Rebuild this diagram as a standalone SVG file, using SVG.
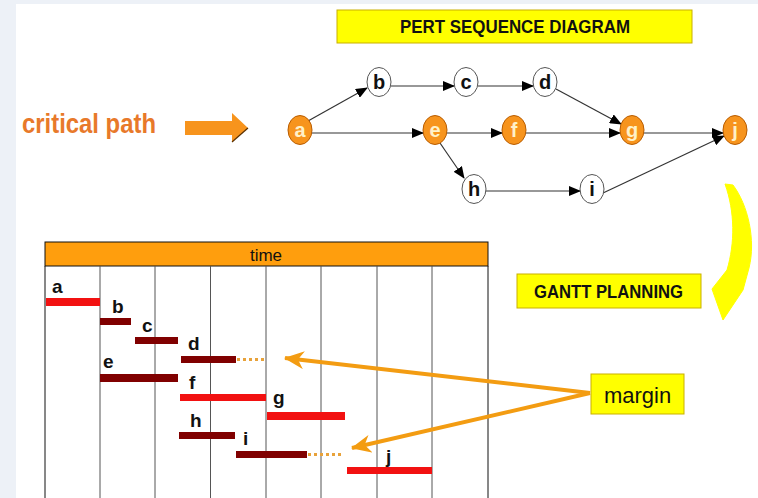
<svg xmlns="http://www.w3.org/2000/svg" width="758" height="498" viewBox="0 0 758 498">
<style>
.bg{fill:#edf1f7}
.panel{fill:#ffffff}
.crit ellipse{fill:#f7941d;stroke:#b85c00;stroke-width:1}
.crit text{fill:#fff1c8;font:bold 20px "Liberation Sans",Arial,sans-serif;text-anchor:middle}
.plain ellipse{fill:#ffffff;stroke:#555555;stroke-width:1}
.plain text{fill:#111111;font:bold 20px "Liberation Sans",Arial,sans-serif;text-anchor:middle}
.edge{stroke:#333333;stroke-width:1.2;fill:none;marker-end:url(#ah)}
.ybox{fill:#ffff00;stroke:#c9b000;stroke-width:1}
.title{font:bold 19px "Liberation Sans",Arial,sans-serif;fill:#111111}
.lbl{font:bold 19px "Liberation Sans",Arial,sans-serif;fill:#111111}
.red{fill:#f21111}
.dark{fill:#800000}
.dots{stroke:#e8a23a;stroke-width:3;stroke-dasharray:3 3;fill:none}
.grid{stroke:#555555;stroke-width:1;fill:none}
.marg{stroke:#f39c12;stroke-width:4;fill:none;marker-end:url(#oh)}
</style>
<defs>
<marker id="ah" markerUnits="userSpaceOnUse" markerWidth="12" markerHeight="10" refX="11" refY="5" orient="auto">
<path d="M0,0 L12,5 L0,10 Z" fill="#000000"/>
</marker>
<marker id="oh" markerUnits="userSpaceOnUse" markerWidth="20" markerHeight="18" refX="19" refY="9" orient="auto">
<path d="M0,0 L20,9 L0,18 L6,9 Z" fill="#f39c12"/>
</marker>
</defs>
<rect class="bg" x="0" y="0" width="758" height="498"/>
<rect class="panel" x="16" y="4" width="742" height="494"/>

<g id="pert-title">
<rect class="ybox" x="337" y="10" width="355" height="33"/>
<text class="title" x="400" y="33" textLength="230" lengthAdjust="spacingAndGlyphs">PERT SEQUENCE DIAGRAM</text>
</g>

<g id="critical-path">
<text x="22" y="133" font-family="Liberation Sans, Arial, sans-serif" font-weight="bold" font-size="27" fill="#e8792a" textLength="134" lengthAdjust="spacingAndGlyphs">critical path</text>
<path d="M185,121 L232,121 L232,113 L248,128 L232,142 L232,135 L185,135 Z" fill="#f7941d"/>
<path d="M248,128 L232,142" stroke="#5a3000" stroke-width="1.2"/>
</g>

<g id="connectors">
<line class="edge" x1="308" y1="121" x2="367" y2="88"/>
<line class="edge" x1="312" y1="133" x2="423" y2="133"/>
<line class="edge" x1="447" y1="133" x2="502" y2="133"/>
<line class="edge" x1="526" y1="133" x2="620" y2="133"/>
<line class="edge" x1="644" y1="133" x2="723" y2="133"/>
<line class="edge" x1="391" y1="86" x2="454" y2="86"/>
<line class="edge" x1="478" y1="86" x2="533" y2="86"/>
<line class="edge" x1="556" y1="89" x2="621" y2="124"/>
<line class="edge" x1="440" y1="143" x2="464" y2="178"/>
<line class="edge" x1="486" y1="191" x2="580" y2="191"/>
<line class="edge" x1="603" y1="193" x2="724" y2="136"/>
</g>

<g id="node-a" class="crit"><ellipse cx="300" cy="130" rx="12" ry="14.5"/><text x="300" y="137">a</text></g>
<g id="node-b" class="plain"><ellipse cx="379" cy="82" rx="12" ry="14.5"/><text x="379" y="89">b</text></g>
<g id="node-c" class="plain"><ellipse cx="466" cy="82" rx="12" ry="14.5"/><text x="466" y="89">c</text></g>
<g id="node-d" class="plain"><ellipse cx="545" cy="82" rx="12" ry="14.5"/><text x="545" y="89">d</text></g>
<g id="node-e" class="crit"><ellipse cx="435" cy="130" rx="12" ry="14.5"/><text x="435" y="137">e</text></g>
<g id="node-f" class="crit"><ellipse cx="514" cy="130" rx="12" ry="14.5"/><text x="514" y="137">f</text></g>
<g id="node-g" class="crit"><ellipse cx="632" cy="130" rx="12" ry="14.5"/><text x="632" y="137">g</text></g>
<g id="node-j" class="crit"><ellipse cx="735" cy="130" rx="12" ry="14.5"/><text x="735" y="137">j</text></g>
<g id="node-h" class="plain"><ellipse cx="474" cy="189" rx="12" ry="14.5"/><text x="474" y="196">h</text></g>
<g id="node-i" class="plain"><ellipse cx="592" cy="189" rx="12" ry="14.5"/><text x="592" y="196">i</text></g>

<g id="yellow-turn-arrow">
<path d="M725,184 L733,185 C748,205 756,240 749,268 L743,290 L723,320 L712,289 L727,270 C735,243 735,212 725,184 Z" fill="#ffff00" stroke="#ffff00" stroke-width="1"/>
</g>

<g id="gantt-title">
<rect class="ybox" x="517" y="274" width="184" height="34"/>
<text class="title" x="534" y="298" font-size="18" textLength="149" lengthAdjust="spacingAndGlyphs">GANTT PLANNING</text>
</g>

<g id="gantt-chart">
<rect x="45" y="242" width="443" height="24" fill="#ff9e0d" stroke="#111111" stroke-width="1"/>
<text x="266" y="261" text-anchor="middle" font-family="Liberation Sans, Arial, sans-serif" font-size="17" fill="#111111">time</text>
<path class="grid" d="M100,266 V498 M155,266 V498 M210.5,266 V498 M266,266 V498 M321,266 V498 M377,266 V498 M432,266 V498"/>
<path d="M45,266 V498 M488,266 V498" stroke="#111111" stroke-width="1" fill="none"/>
</g>

<g id="bar-a"><rect class="red" x="46" y="298" width="54" height="8"/><text class="lbl" x="52" y="293">a</text></g>
<g id="bar-b"><rect class="dark" x="100" y="318" width="31" height="7"/><text class="lbl" x="112" y="313">b</text></g>
<g id="bar-c"><rect class="dark" x="135" y="337" width="43" height="7"/><text class="lbl" x="142" y="332">c</text></g>
<g id="bar-d"><rect class="dark" x="181" y="356" width="55" height="7"/><text class="lbl" x="188" y="350">d</text><line class="dots" x1="237" y1="359.5" x2="267" y2="359.5"/></g>
<g id="bar-e"><rect class="dark" x="100" y="374" width="78" height="8"/><text class="lbl" x="103" y="368">e</text></g>
<g id="bar-f"><rect class="red" x="180" y="394" width="86" height="7"/><text class="lbl" x="189" y="389">f</text></g>
<g id="bar-g"><rect class="red" x="267" y="412" width="78" height="8"/><text class="lbl" x="273" y="404">g</text></g>
<g id="bar-h"><rect class="dark" x="179" y="432" width="56" height="7"/><text class="lbl" x="190" y="427">h</text></g>
<g id="bar-i"><rect class="dark" x="236" y="451" width="71" height="7"/><text class="lbl" x="243" y="445">i</text><line class="dots" x1="308" y1="454.5" x2="342" y2="454.5"/></g>
<g id="bar-j"><rect class="red" x="347" y="467" width="85" height="7"/><text class="lbl" x="386" y="463">j</text></g>

<g id="margin-connectors">
<line class="marg" x1="590" y1="393" x2="285" y2="358"/>
<line class="marg" x1="590" y1="393" x2="352" y2="448"/>
</g>

<g id="margin">
<rect class="ybox" x="591" y="374" width="93" height="40"/>
<text x="637.5" y="403" text-anchor="middle" font-family="Liberation Sans, Arial, sans-serif" font-size="22" fill="#111111">margin</text>
</g>
</svg>
